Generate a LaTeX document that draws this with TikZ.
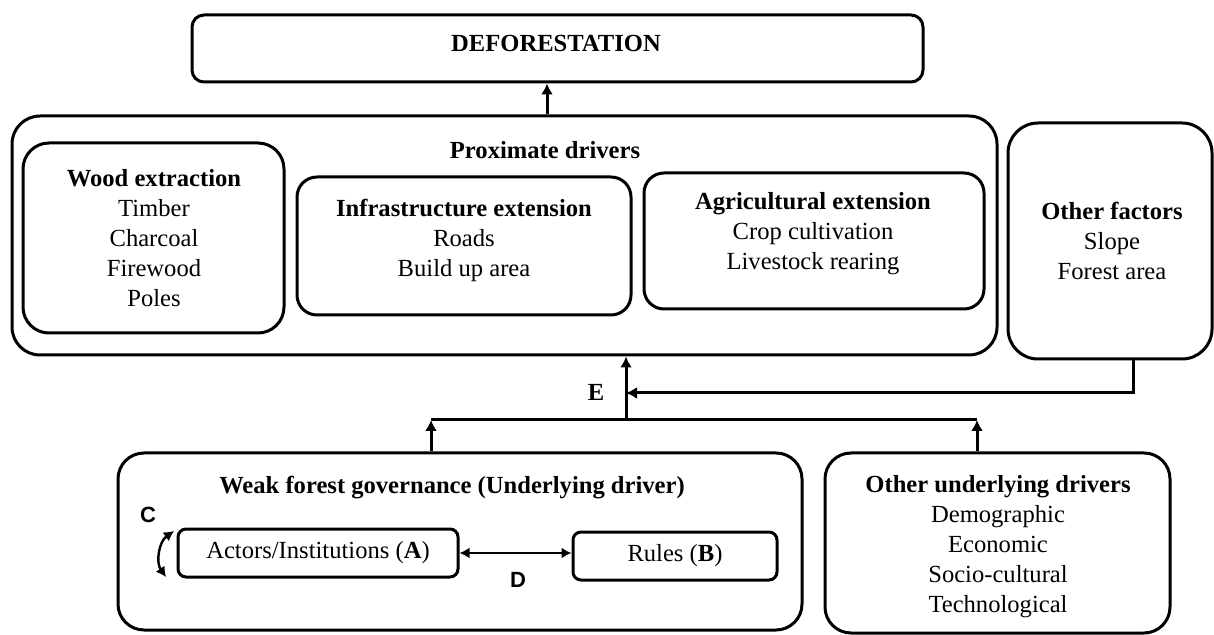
\documentclass[tikz,border=0pt]{standalone}
\usepackage{fontspec}
\setmainfont{Liberation Serif}
\newfontfamily\letterfont{Liberation Sans}
\usepackage{tikz}
\usetikzlibrary{shapes,arrows,arrows.meta,fit}
\tikzstyle{block} = [rectangle, draw, line width=1.5pt, inner sep=0pt]
\tikzstyle{line} = [draw, line width=1.5pt, -{Latex[length=5.5pt,width=6pt]}]
\tikzset{
  boxtext/.style = {align=center, inner sep=0pt},
  tag/.style     = {font=\letterfont\bfseries\fontsize{11}{13}\selectfont, inner sep=0pt},
  twoway/.style  = {draw, line width=1.2pt, {Latex[length=5pt,width=5.5pt]}-{Latex[length=5pt,width=5.5pt]}}
}

\begin{document}
\begin{tikzpicture}[x=0.5pt, y=-0.5pt, font=\fontsize{12.3}{15}\selectfont]
	\useasboundingbox (0,0) rectangle (1214,635);
	% Place nodes
	\node [block, rounded corners=6pt, fit={(192,15) (923,82)}] (deforest) {};
	\node [boxtext] (deforestText) at (556,43) {\textbf{DEFORESTATION}};
	% Level 2
	\node [block, rounded corners=14pt, fit={(12,116) (997,355)}] (proximate) {};
	\node [boxtext] (proximateText) at (545,150) {\textbf{Proximate drivers}};
	\node [block, rounded corners=13pt, fit={(23,143) (284,333)}] (wood) {};
	\node [boxtext] (woodText) at (154,238) {\textbf{Wood extraction}\\Timber\\Charcoal\\Firewood\\Poles};
	\node [block, rounded corners=10pt, fit={(297,177) (631,315)}] (infra) {};
	\node [boxtext] (infraText) at (464,240) {\textbf{Infrastructure extension}\\Roads\\Build up area};
	\node [block, rounded corners=10pt, fit={(644,173) (984,309)}] (agri) {};
	\node [boxtext] (agriText) at (813,234) {\textbf{Agricultural extension}\\Crop cultivation\\Livestock rearing};
	\node [block, rounded corners=15pt, fit={(1008,123) (1212,359)}] (otherF) {};
	\node [boxtext] (otherFText) at (1112,241) {\textbf{Other factors}\\Slope\\Forest area};
	% Level 3
	\node [block, rounded corners=13pt, fit={(118,453) (802,630)}] (governance) {};
	\node [boxtext] (governanceText) at (452,488) {\textbf{Weak forest governance (Underlying driver)}};
	\node [block, rounded corners=4pt, fit={(178,529) (458,577)}] (actors) {};
	\node [boxtext] (actorsText) at (actors.center) {Actors/Institutions (\textbf{A})};
	\node [block, rounded corners=4pt, fit={(573,532) (777,580)}] (rules) {};
	\node [boxtext] (rulesText) at (rules.center) {Rules (\textbf{B})};
	\node [block, rounded corners=13pt, fit={(825,453) (1170,633)}] (underlying) {};
	\node [boxtext] (underlyingText) at (998,547) {\textbf{Other underlying drivers}\\Demographic\\Economic\\Socio-cultural\\Technological};
	% Letters
	\node [tag] (tagC) at (148,515) {C};
	\node [tag] (tagD) at (518,580) {D};
	\node [boxtext] (tagE) at (596,392) {\textbf{E}};
	% Junctions
	\coordinate (upArrow) at (547,100);
	\coordinate (joinL) at (431,420);
	\coordinate (joinM) at (626,420);
	\coordinate (joinR) at (977,420);
	\coordinate (bendF) at (1133,393);
	\coordinate (cTop) at (174,531);
	\coordinate (cBot) at (166,577);
	% Draw edges
	\path [line] (upArrow |- proximate.north) -- (upArrow |- deforest.south);
	\path [line] (joinL |- governance.north) -- (joinL);
	\path [line] (joinR |- underlying.north) -- (joinR);
	\draw [line width=1.5pt] (joinL) -- (joinR);
	\path [line] (joinM) -- (joinM |- proximate.south);
	\path [line] (bendF |- otherF.south) -- (bendF) -- (bendF -| joinM);
	\path [twoway] (cTop) to [bend right=45] (cBot);
	\path [twoway] (actors.east) -- (actors.east -| rules.west);
\end{tikzpicture}
\end{document}
